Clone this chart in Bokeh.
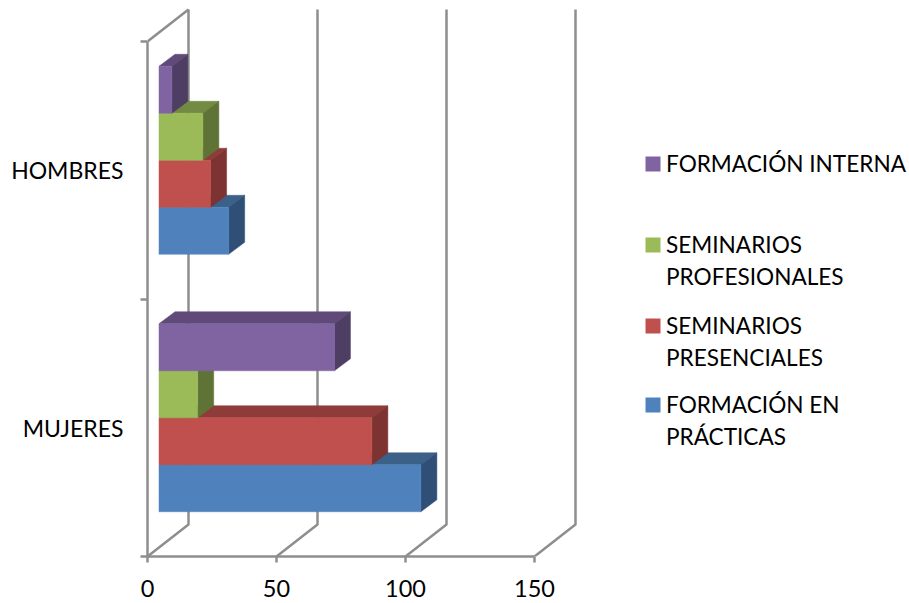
from bokeh.plotting import figure
from bokeh.embed import file_html
from bokeh.resources import INLINE
from bokeh.models import FixedTicker, Range1d
from bokeh.core.properties import value

categories = ["MUJERES", "HOMBRES"]
series = ["FORMACIÓN EN PRÁCTICAS", "SEMINARIOS PRESENCIALES", "SEMINARIOS PROFESIONALES", "FORMACIÓN INTERNA"]
legend_lines = [["FORMACIÓN EN", "PRÁCTICAS"], ["SEMINARIOS", "PRESENCIALES"], ["SEMINARIOS", "PROFESIONALES"], ["FORMACIÓN INTERNA"]]
formacion_practicas = [101.5, 27]
seminarios_presenciales = [82.5, 20]
seminarios_profesionales = [15, 17]
formacion_interna = [68, 5]
x_ticks = [0, 50, 100, 150]

values = [formacion_practicas, seminarios_presenciales, seminarios_profesionales, formacion_interna]
front = ["#4f81bd", "#c0504d", "#9bbb59", "#8064a2"]
topc = ["#3c6189", "#8f3b39", "#728a41", "#5f4a79"]
side = ["#2f4f77", "#7c3331", "#5f7336", "#4f3e64"]

W, H = 909, 603
LEFT, BOTTOM = 147, 556          # frame corner, page pixels
PXX, PXY = 2.58, 257.5           # pixels per data unit
WALL_DX, WALL_DY = 41 / PXX, 32 / PXY
BAR_DX, BAR_DY = 16 / PXX, 12 / PXY
X0 = 11.5 / PXX                  # bars start this far along the depth
Y_SHIFT = 10 / PXY
BAR_H = 47 / PXY
GRAY = "#8e8e8e"
LINE_W = 2.5
FONT = "Lato"


def dx(px):
    return (px - LEFT) / PXX


def dy(py):
    return (BOTTOM - py) / PXY


p = figure(width=W, height=H, output_backend="svg", toolbar_location=None,
           x_range=Range1d(0, dx(W)), y_range=Range1d(0, dy(0)),
           min_border_left=LEFT, min_border_right=0, min_border_top=0, min_border_bottom=H - BOTTOM)
p.outline_line_color = None
p.grid.visible = False

# walls
y_top = 2
for t in x_ticks:
    p.line([t, t + WALL_DX, t + WALL_DX], [0, WALL_DY, y_top + WALL_DY], line_color=GRAY, line_width=LINE_W)
p.line([0, WALL_DX], [y_top, y_top + WALL_DY], line_color=GRAY, line_width=LINE_W)

# bars, lowest first so each one overlaps the top face of the one under it
for c in range(len(categories)):
    for s in range(len(series)):
        v = values[s][c]
        y0 = c + 0.5 + Y_SHIFT + (s - 2) * BAR_H
        y1 = y0 + BAR_H
        x0, x1 = X0, X0 + v
        p.patch([x0, x1, x1 + BAR_DX, x0 + BAR_DX], [y1, y1, y1 + BAR_DY, y1 + BAR_DY],
                fill_color=topc[s], line_color=topc[s], line_width=0.5)
        p.patch([x1, x1 + BAR_DX, x1 + BAR_DX, x1], [y0, y0 + BAR_DY, y1 + BAR_DY, y1],
                fill_color=side[s], line_color=side[s], line_width=0.5)
        p.quad(left=x0, right=x1, bottom=y0, top=y1, fill_color=front[s], line_color=front[s], line_width=0.5)

# legend, built so that each swatch sits on the first line of its label
first_line_y = [404, 325, 244, 163]
LINE_STEP = 32
for s in range(len(series)):
    p.scatter([dx(652.5)], [dy(first_line_y[s] + 0.5)], marker="square", size=15,
              fill_color=front[s], line_color=None)
    for i, line in enumerate(legend_lines[s]):
        p.text([dx(665.5)], [dy(first_line_y[s] + i * LINE_STEP)], text=[line], text_font=value(FONT),
               text_font_size="22.6px", text_color="#000000", text_baseline="middle", text_align="left")

xa = p.xaxis[0]
xa.ticker = FixedTicker(ticks=x_ticks)
xa.bounds = (0, 150)
xa.axis_line_color = GRAY
xa.axis_line_width = LINE_W
xa.major_tick_line_color = GRAY
xa.major_tick_line_width = LINE_W
xa.major_tick_in = 0
xa.major_tick_out = 6
xa.major_label_standoff = 17
xa.major_label_text_font = FONT
xa.major_label_text_font_size = "23.5px"
xa.major_label_text_color = "#000000"

ya = p.yaxis[0]
ya.ticker = FixedTicker(ticks=[0.5, 1.5], minor_ticks=[0, 1, 2])
ya.major_label_overrides = {0.5: categories[0], 1.5: categories[1]}
ya.bounds = (0, 2)
ya.axis_line_color = GRAY
ya.axis_line_width = LINE_W
ya.major_tick_line_color = None
ya.major_tick_out = 0
ya.major_tick_in = 0
ya.minor_tick_line_color = GRAY
ya.minor_tick_line_width = LINE_W
ya.minor_tick_in = 0
ya.minor_tick_out = 7
ya.major_label_standoff = 17
ya.major_label_text_font = FONT
ya.major_label_text_font_size = "23px"
ya.major_label_text_color = "#000000"

open("out.html", "w").write(file_html(p, INLINE))
